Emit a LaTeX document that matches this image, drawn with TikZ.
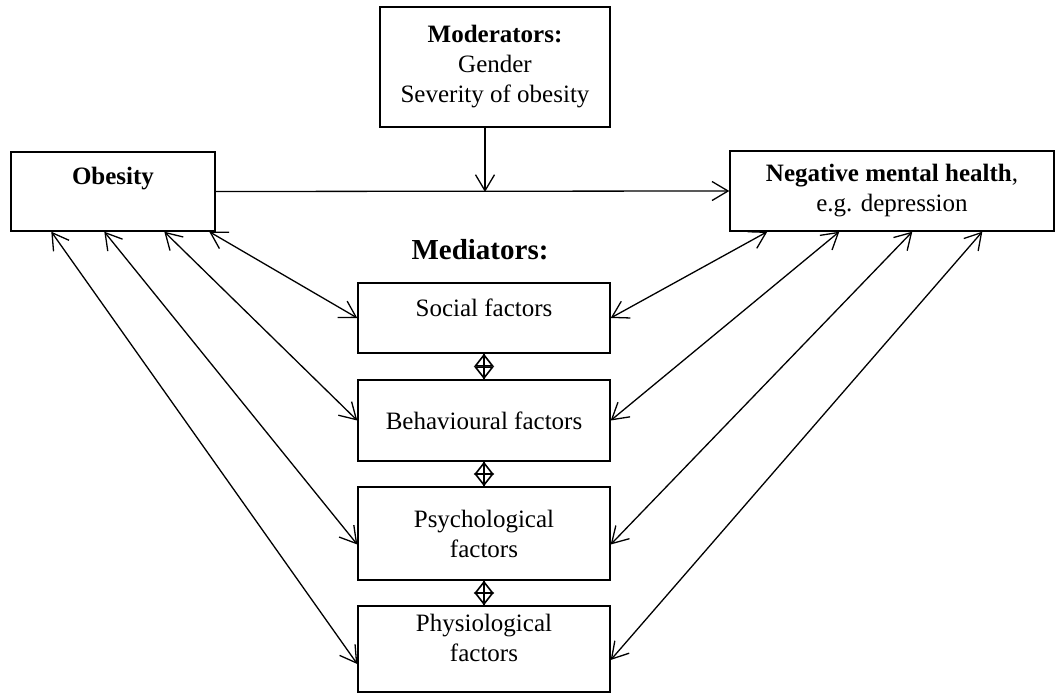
\documentclass[tikz,border=0pt]{standalone}
\usepackage{fontspec}
\setmainfont{Liberation Serif}
\usetikzlibrary{positioning,calc,arrows.meta}

\begin{document}
\begin{tikzpicture}[x=0.5pt,y=-0.5pt,
	box/.style={rectangle, draw=black, line width=0.7pt, inner sep=0pt, align=center, font=\fontsize{12.5}{15}\selectfont},
	arr/.style={line width=0.65pt, -{Straight Barb[length=8pt,width=9.5pt]}},
	darr/.style={line width=0.65pt, {Straight Barb[length=8pt,width=9.5pt]}-{Straight Barb[length=8pt,width=9.5pt]}},
	pair/.style={line width=0.8pt, {Triangle[open,length=6.5pt,width=10pt]}-{Triangle[open,length=6.5pt,width=10pt]}}]
			\useasboundingbox (0,0) rectangle (1056,700);
			\node[box, minimum width=115pt, minimum height=60pt] (mod) at (495,67) {\textbf{Moderators:}\\Gender\\Severity of obesity};
			\node[box, minimum width=102pt, text height=16.5pt, text depth=23pt] (obe) at (113,191.5) {\textbf{Obesity}};
			\node[box, minimum width=162pt, minimum height=40pt] (nmh) at (892,191) {\textbf{Negative mental health},\\e.g. depression};
			\node[font=\bfseries\fontsize{14.5}{17}\selectfont] (med) at (480,250) {Mediators:};
			\node[box, minimum width=126pt, text height=17pt, text depth=18pt] (soc) at (484,318) {Social factors};
			\node[box, minimum width=126pt, minimum height=40.5pt] (beh) at (484,420.5) {Behavioural factors};
			\node[box, minimum width=126pt, minimum height=46.5pt] (psy) at (484,533.5) {Psychological\\factors};
			\node[box, minimum width=126pt, minimum height=43pt] (phy) at (484,649) {Physiological\\factors\\[-4pt]\mbox{}};
			\coordinate (join) at (485,192);
			\draw[arr] (obe.east) -- (nmh.west);
			\draw[arr] (mod.south -| join) -- (join);
			\draw[line width=0.8pt] (soc) -- (beh);
			\draw[pair] (soc) -- (beh);
			\draw[line width=0.8pt] (beh) -- (psy);
			\draw[pair] (beh) -- (psy);
			\draw[line width=0.8pt] (psy) -- (phy);
			\draw[pair] (psy) -- (phy);
			\draw[darr] ($(obe.south west)+(199,0)$) -- (soc.west);
			\draw[darr] ($(obe.south west)+(154,0)$) -- (beh.west);
			\draw[darr] ($(obe.south west)+(94,0)$) -- ($(psy.west)+(0,11)$);
			\draw[darr] ($(obe.south west)+(41,0)$) -- ($(phy.west)+(0,15)$);
			\draw[darr] ($(nmh.south west)+(38,0)$) -- (soc.east);
			\draw[darr] ($(nmh.south west)+(110,0)$) -- (beh.east);
			\draw[darr] ($(nmh.south west)+(183,0)$) -- ($(psy.east)+(0,11)$);
			\draw[darr] ($(nmh.south west)+(253,0)$) -- ($(phy.east)+(0,11)$);
\end{tikzpicture}
\end{document}
